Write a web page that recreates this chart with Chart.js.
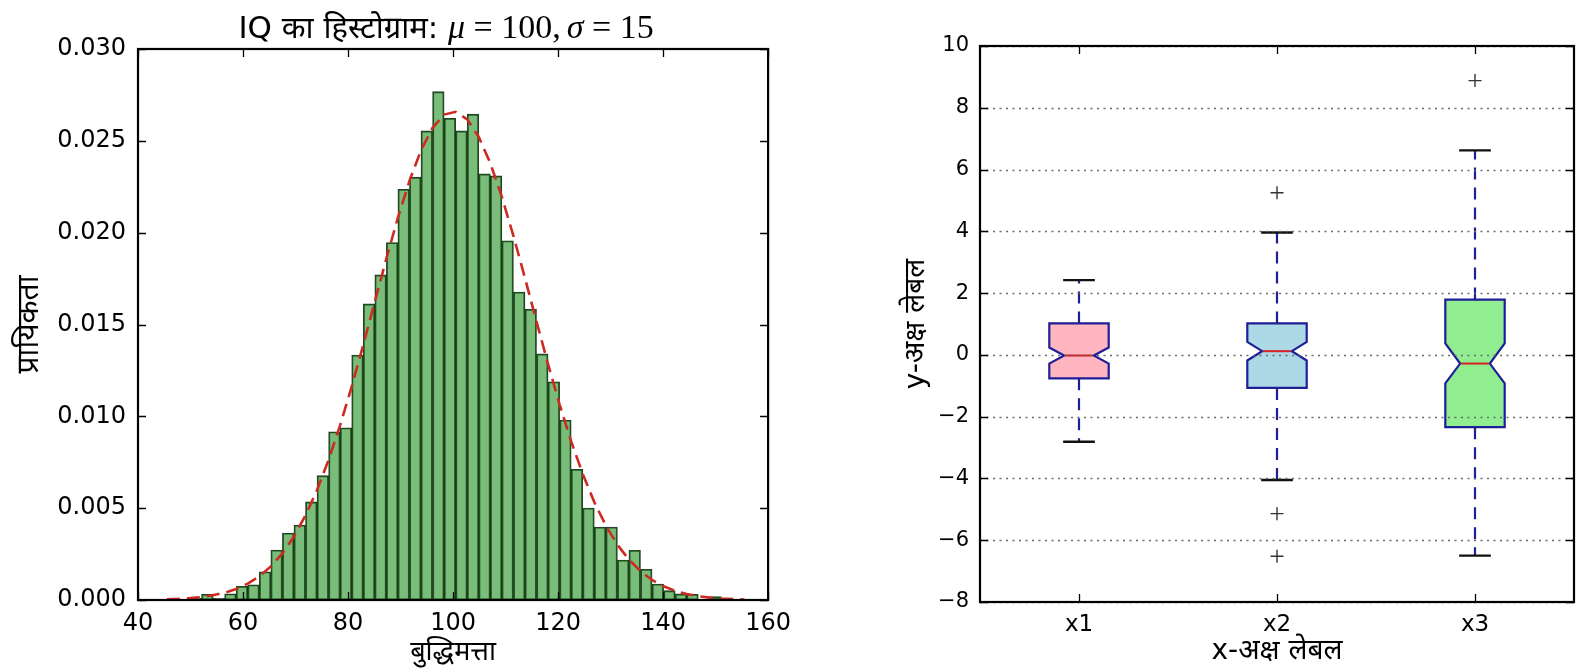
<!DOCTYPE html>
<html>
<head>
<meta charset="utf-8">
<script src="https://cdn.jsdelivr.net/npm/chart.js@4.4.0/dist/chart.umd.min.js"></script>
<style>
  html, body { margin: 0; padding: 0; background: #fff; }
  #wrap { position: relative; width: 1588px; height: 672px; overflow: hidden; }
  canvas { position: absolute; top: 0; }
  #histChart { left: 0; }
  #boxChart { left: 800px; }
</style>
</head>
<body>
<div id="wrap">
  <canvas id="histChart" width="800" height="672"></canvas>
  <canvas id="boxChart" width="788" height="672"></canvas>
</div>
<script>
// ===================== DATA =====================

// histogram bin edges (51 edges -> 50 bins)
const binEdges = [
    45.5, 47.7, 49.9, 52.1, 54.3, 56.5, 58.7, 60.9, 63.1, 65.3,
    67.5, 69.7, 71.9, 74.1, 76.3, 78.5, 80.7, 82.9, 85.1, 87.3,
    89.5, 91.7, 93.9, 96.1, 98.3, 100.5, 102.7, 104.9, 107.1, 109.3,
    111.5, 113.7, 115.9, 118.1, 120.3, 122.5, 124.7, 126.9, 129.1, 131.3,
    133.5, 135.7, 137.9, 140.1, 142.3, 144.5, 146.7, 148.9, 151.1, 153.3, 155.5
];

// bar heights (probability density)
const binDensity = [
    0.00005, 0.0, 0.00009, 0.00031, 0.00009, 0.00034, 0.00075, 0.00083, 0.00154, 0.00272,
    0.00365, 0.00408, 0.00534, 0.00677, 0.00916, 0.00938, 0.01334, 0.01612, 0.01770, 0.01946,
    0.02236, 0.02302, 0.02554, 0.02768, 0.02623, 0.02554, 0.02645, 0.02320, 0.02309, 0.01956,
    0.01677, 0.01583, 0.01340, 0.01188, 0.00980, 0.00712, 0.00501, 0.00397, 0.00397, 0.00218,
    0.00271, 0.00167, 0.00087, 0.00051, 0.00033, 0.00031, 0.00002, 0.00018, 0.00004, 0.00004
];

// red dashed normal curve, one value per bin edge
const pdfCurve = [
    0.000036, 0.000061, 0.000101, 0.000162, 0.000257, 0.000397, 0.000601, 0.000890, 0.00129, 0.00183,
    0.00254, 0.00346, 0.00460, 0.00599, 0.00763, 0.00952, 0.01162, 0.01389, 0.01624, 0.01859,
    0.02082, 0.02282, 0.02449, 0.02571, 0.02643, 0.02658, 0.02617, 0.02521, 0.02378, 0.02195,
    0.01982, 0.01753, 0.01516, 0.01284, 0.01064, 0.00863, 0.00686, 0.00533, 0.00405, 0.00301,
    0.00220, 0.00157, 0.00109, 0.000746, 0.000499, 0.000326, 0.000209, 0.000131, 0.0000803, 0.0000482, 0.0000283
];

const titleParts = ['IQ का हिस्टोग्राम: ', 'μ', ' = 100,', 'σ', ' = 15'];

// box plot
const boxLabels = ['x1', 'x2', 'x3'];
const boxPositions = [1, 2, 3];
const whiskerLow = [-2.81, -4.05, -6.50];
const q1 = [-0.76, -1.07, -2.34];
const median = [-0.02, 0.12, -0.28];
const q3 = [1.02, 1.02, 1.79];
const whiskerHigh = [2.42, 3.96, 6.62];
const notchLow = [-0.28, -0.18, -0.92];
const notchHigh = [0.24, 0.42, 0.37];
const boxFill = ['#ffb6c1', '#add8e6', '#90ee90'];
const flierX = [2, 2, 2, 3];
const flierY = [5.25, -5.14, -6.52, 8.88];

// ===================== PLUGINS =====================

// black frame + inward ticks on all four sides (classic matplotlib look)
const frameTicks = {
    id: 'frameTicks',
    afterDraw(chart, args, opts) {
        const { ctx, chartArea: a } = chart;
        const xs = chart.scales.x, ys = chart.scales.y;
        const len = opts.len || 8;
        ctx.save();
        ctx.strokeStyle = '#000';
        ctx.lineWidth = 1.3;
        ctx.beginPath();
        xs.ticks.forEach(t => {
            const px = Math.round(xs.getPixelForValue(t.value)) + 0.5;
            ctx.moveTo(px, a.bottom); ctx.lineTo(px, a.bottom - len);
            ctx.moveTo(px, a.top); ctx.lineTo(px, a.top + len);
        });
        ys.ticks.forEach(t => {
            const py = Math.round(ys.getPixelForValue(t.value)) + 0.5;
            ctx.moveTo(a.left, py); ctx.lineTo(a.left + len, py);
            ctx.moveTo(a.right, py); ctx.lineTo(a.right - len, py);
        });
        ctx.stroke();
        ctx.lineWidth = 2.2;
        ctx.strokeRect(a.left, a.top, a.right - a.left, a.bottom - a.top);
        ctx.restore();
    }
};

// title with mixed fonts (plain text + math letters)
const mathTitle = {
    id: 'mathTitle',
    afterDraw(chart, args, opts) {
        if (!opts.show) return;
        const { ctx, chartArea: a } = chart;
        const fonts = [
            '31px "DejaVu Sans", "Noto Sans", sans-serif',
            'italic 34px "Liberation Serif", "DejaVu Serif", serif',
            '34px "Liberation Serif", "DejaVu Serif", serif',
            'italic 34px "Liberation Serif", "DejaVu Serif", serif',
            '34px "Liberation Serif", "DejaVu Serif", serif'
        ];
        const gaps = [0, 0, 6, 0, 0];
        ctx.save();
        ctx.fillStyle = '#000';
        ctx.textBaseline = 'alphabetic';
        const widths = titleParts.map((t, i) => { ctx.font = fonts[i]; return ctx.measureText(t).width + gaps[i]; });
        const total = widths.reduce((s, w) => s + w, 0);
        let x = (a.left + a.right) / 2 - 7 - total / 2;
        titleParts.forEach((t, i) => {
            ctx.font = fonts[i];
            ctx.fillText(t, x, 38);
            x += widths[i];
        });
        ctx.restore();
    }
};

// notched boxes, whiskers, caps, medians, then dotted y grid on top
const BOX_W = 0.3;
const CAP_W = 0.16;
const boxDraw = {
    id: 'boxDraw',
    beforeDatasetsDraw(chart) {
        const { ctx, chartArea: a } = chart;
        const xs = chart.scales.x, ys = chart.scales.y;
        if (!chart.options.plugins.boxDraw || !chart.options.plugins.boxDraw.show) return;
        const Y = v => ys.getPixelForValue(v);
        const X = v => xs.getPixelForValue(v);
        ctx.save();
        boxPositions.forEach((pos, i) => {
            const xl = X(pos - BOX_W / 2), xr = X(pos + BOX_W / 2);
            const nl = X(pos - BOX_W / 4), nr = X(pos + BOX_W / 4);
            const xc = X(pos);

            // whiskers
            ctx.setLineDash([12, 8]);
            ctx.strokeStyle = '#1e1e96';
            ctx.lineWidth = 2.2;
            ctx.beginPath();
            ctx.moveTo(xc, Y(q3[i])); ctx.lineTo(xc, Y(whiskerHigh[i]));
            ctx.moveTo(xc, Y(q1[i])); ctx.lineTo(xc, Y(whiskerLow[i]));
            ctx.stroke();
            ctx.setLineDash([]);

            // caps
            ctx.strokeStyle = '#111';
            ctx.lineWidth = 2.4;
            ctx.beginPath();
            ctx.moveTo(X(pos - CAP_W / 2), Y(whiskerHigh[i])); ctx.lineTo(X(pos + CAP_W / 2), Y(whiskerHigh[i]));
            ctx.moveTo(X(pos - CAP_W / 2), Y(whiskerLow[i])); ctx.lineTo(X(pos + CAP_W / 2), Y(whiskerLow[i]));
            ctx.stroke();

            // notched box
            ctx.beginPath();
            ctx.moveTo(xl, Y(q1[i]));
            ctx.lineTo(xr, Y(q1[i]));
            ctx.lineTo(xr, Y(notchLow[i]));
            ctx.lineTo(nr, Y(median[i]));
            ctx.lineTo(xr, Y(notchHigh[i]));
            ctx.lineTo(xr, Y(q3[i]));
            ctx.lineTo(xl, Y(q3[i]));
            ctx.lineTo(xl, Y(notchHigh[i]));
            ctx.lineTo(nl, Y(median[i]));
            ctx.lineTo(xl, Y(notchLow[i]));
            ctx.closePath();
            ctx.fillStyle = boxFill[i];
            ctx.fill();
            ctx.strokeStyle = '#1e1e96';
            ctx.lineWidth = 2.2;
            ctx.lineJoin = 'miter';
            ctx.stroke();

            // median
            ctx.strokeStyle = '#d42020';
            ctx.lineWidth = 2;
            ctx.beginPath();
            ctx.moveTo(nl + 1, Y(median[i])); ctx.lineTo(nr - 1, Y(median[i]));
            ctx.stroke();
        });

        // dotted horizontal grid
        ctx.strokeStyle = '#6a6a6a';
        ctx.lineWidth = 1.4;
        ctx.setLineDash([2, 4.5]);
        ctx.beginPath();
        ys.ticks.forEach(t => {
            const py = Math.round(Y(t.value)) + 0.5;
            ctx.moveTo(a.left, py); ctx.lineTo(a.right, py);
        });
        ctx.stroke();
        ctx.restore();
    }
};

Chart.register(frameTicks, mathTitle, boxDraw);

const tickFontL = { family: '"DejaVu Sans", sans-serif', size: 24 };
const xTitleFontL = { family: '"DejaVu Sans", "Noto Sans", sans-serif', size: 27 };
const yTitleFontL = { family: '"DejaVu Sans", "Noto Sans", sans-serif', size: 30 };
const yTickFontR = { family: '"DejaVu Sans", sans-serif', size: 21 };
const xTickFontR = { family: '"DejaVu Sans", sans-serif', size: 23 };
const titleFontR = { family: '"DejaVu Sans", "Noto Sans", sans-serif', size: 28 };

// ===================== HISTOGRAM =====================

const histCtx = document.getElementById('histChart');
const binCenters = binEdges.slice(0, -1).map((e, i) => (e + binEdges[i + 1]) / 2);

new Chart(histCtx, {
    type: 'bar',
    data: {
        datasets: [
            {
                type: 'line',
                data: binEdges.map((x, i) => ({ x: x, y: pdfCurve[i] })),
                borderColor: '#cc2b22',
                borderWidth: 2.6,
                borderDash: [13, 7],
                pointRadius: 0,
                fill: false,
                tension: 0,
                order: 0
            },
            {
                type: 'bar',
                data: binCenters.map((x, i) => ({ x: x, y: binDensity[i] })),
                backgroundColor: 'rgba(0, 128, 0, 0.52)',
                borderColor: 'rgba(5, 30, 5, 0.85)',
                borderWidth: 1.2,
                borderSkipped: false,
                barPercentage: 1,
                categoryPercentage: 1,
                order: 1
            }
        ]
    },
    options: {
        responsive: false,
        animation: false,
        layout: { padding: { top: 49, right: 22, left: 0, bottom: 0 } },
        plugins: {
            legend: { display: false },
            tooltip: { enabled: false },
            frameTicks: { len: 8 },
            mathTitle: { show: true }
        },
        scales: {
            x: {
                type: 'linear',
                min: 40,
                max: 160,
                offset: false,
                grid: { display: false, drawTicks: false },
                border: { display: false },
                ticks: { stepSize: 20, color: '#000', font: tickFontL, padding: 9, maxRotation: 0 },
                title: { display: true, text: 'बुद्धिमत्ता', color: '#000', font: xTitleFontL, padding: { top: 0, bottom: 3 } },
                afterFit: s => { s.height = 72; }
            },
            y: {
                min: 0,
                max: 0.03,
                grid: { display: false, drawTicks: false },
                border: { display: false },
                ticks: {
                    stepSize: 0.005, color: '#000', font: tickFontL, padding: 12,
                    callback: v => v.toFixed(3)
                },
                title: { display: true, text: 'प्रायिकता', color: '#000', font: yTitleFontL, padding: { top: 12, bottom: 0 } },
                afterFit: s => { s.width = 138; }
            }
        }
    }
});

// ===================== BOX PLOT =====================

const boxCtx = document.getElementById('boxChart');

new Chart(boxCtx, {
    type: 'scatter',
    data: {
        datasets: [{
            data: flierX.map((x, i) => ({ x: x, y: flierY[i] })),
            pointStyle: 'cross',
            pointRadius: 6.5,
            borderColor: '#333',
            borderWidth: 1.4,
            backgroundColor: '#333'
        }]
    },
    options: {
        responsive: false,
        animation: false,
        layout: { padding: { top: 46, right: 14, left: 0, bottom: 0 } },
        plugins: {
            legend: { display: false },
            tooltip: { enabled: false },
            frameTicks: { len: 8 },
            mathTitle: { show: false },
            boxDraw: { show: true }
        },
        scales: {
            x: {
                type: 'linear',
                min: 0.5,
                max: 3.5,
                grid: { display: false, drawTicks: false },
                border: { display: false },
                afterBuildTicks: s => { s.ticks = boxPositions.map(v => ({ value: v })); },
                ticks: {
                    color: '#000', font: xTickFontR, padding: 9, maxRotation: 0,
                    callback: v => boxLabels[boxPositions.indexOf(v)]
                },
                title: { display: true, text: 'x-अक्ष लेबल', color: '#000', font: titleFontR, padding: { top: 0, bottom: 3 } },
                afterFit: s => { s.height = 70; }
            },
            y: {
                min: -8,
                max: 10,
                grid: { display: false, drawTicks: false },
                border: { display: false },
                ticks: {
                    stepSize: 2, color: '#000', font: yTickFontR, padding: 11,
                    callback: v => (v < 0 ? '\u2212' + Math.abs(v) : String(v))
                },
                title: { display: true, text: 'y-अक्ष लेबल', color: '#000', font: titleFontR, padding: { top: 100, bottom: 0 } },
                afterFit: s => { s.width = 180; }
            }
        }
    }
});
</script>
</body>
</html>
